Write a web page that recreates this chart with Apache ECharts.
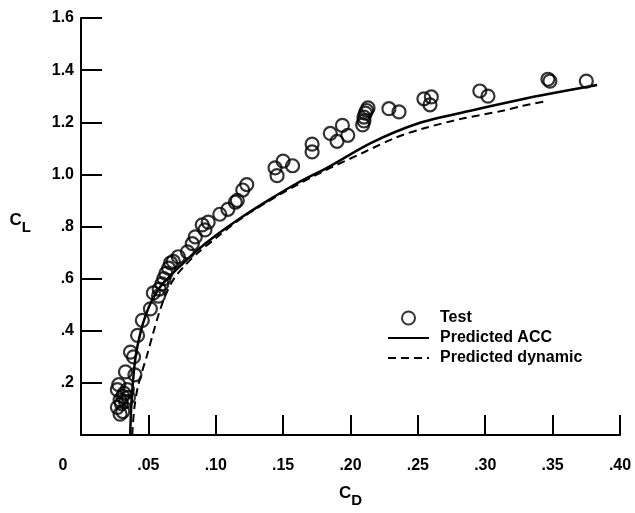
<!DOCTYPE html>
<html>
<head>
<meta charset="utf-8">
<script src="https://cdn.jsdelivr.net/npm/echarts@6/dist/echarts.min.js"></script>
<style>
html,body{margin:0;padding:0;background:#fff;}
#chart{width:635px;height:513px;}
</style>
</head>
<body>
<div id="chart"></div>
<script>
// Test data (CD, CL)
var testCD = [0.027,0.029,0.031,0.030,0.029,0.033,0.0352,0.031,0.032,0.027,0.0344,0.028,0.033,0.040,0.0367,0.039,0.042,0.0455,0.0515,0.0575,0.0537,0.058,0.060,0.0615,0.063,0.065,0.0665,0.0685,0.0722,0.079,0.0826,0.0848,0.092,0.090,0.0944,0.103,0.109,0.116,0.1145,0.120,0.123,0.1455,0.144,0.150,0.157,0.1715,0.1715,0.185,0.190,0.194,0.198,0.209,0.210,0.210,0.211,0.212,0.213,0.2285,0.236,0.2545,0.260,0.259,0.296,0.302,0.3465,0.348,0.375];
var testCL = [0.106,0.080,0.090,0.120,0.135,0.129,0.144,0.148,0.160,0.174,0.174,0.193,0.242,0.231,0.318,0.300,0.382,0.440,0.484,0.533,0.545,0.560,0.580,0.600,0.620,0.640,0.660,0.666,0.684,0.703,0.734,0.760,0.787,0.806,0.817,0.847,0.866,0.900,0.893,0.940,0.961,0.995,1.025,1.051,1.033,1.086,1.116,1.157,1.127,1.188,1.150,1.190,1.205,1.220,1.235,1.245,1.255,1.252,1.240,1.290,1.297,1.267,1.320,1.300,1.365,1.358,1.358];
// Predicted ACC (solid)
var accCD = [0.0365,0.0372,0.0385,0.0405,0.044,0.048,0.053,0.059,0.066,0.075,0.0836,0.100,0.1206,0.1404,0.160,0.185,0.215,0.250,0.289,0.318,0.340,0.383];
var accCL = [0.00,0.10,0.20,0.30,0.39,0.46,0.52,0.57,0.61,0.655,0.697,0.765,0.840,0.905,0.965,1.032,1.120,1.195,1.244,1.278,1.302,1.343];
// Predicted dynamic (dashed)
var dynCD = [0.038,0.0395,0.042,0.0453,0.049,0.0535,0.058,0.063,0.069,0.077,0.087,0.100,0.120,0.150,0.180,0.210,0.234,0.254,0.283,0.313,0.328,0.346];
var dynCL = [0.00,0.10,0.18,0.243,0.306,0.39,0.469,0.54,0.60,0.65,0.70,0.755,0.835,0.930,1.012,1.085,1.142,1.176,1.214,1.244,1.263,1.282];
var xTicks = {min:0, max:0.40, interval:0.05};
var yTicks = {min:0, max:1.6, interval:0.2};

function zip(a,b){return a.map(function(v,i){return [v,b[i]];});}
var FONT = '"Liberation Sans", Arial, sans-serif';
var chart = echarts.init(document.getElementById('chart'), null, {renderer:'canvas'});
chart.setOption({
  backgroundColor:'#fff',
  animation:false,
  grid:{left:81, right:15, top:18, bottom:72},
  legend:{
    orient:'vertical', left:382, top:305, itemWidth:41, itemHeight:13, itemGap:4,
    textStyle:{fontFamily:FONT, fontWeight:'bold', fontSize:16, color:'#000', padding:[0,0,0,6]},
    data:[
      {name:'Test'},
      {name:'Predicted ACC', itemStyle:{opacity:0}},
      {name:'Predicted dynamic', itemStyle:{opacity:0}}
    ]
  },
  xAxis:{
    type:'value', min:xTicks.min, max:xTicks.max, interval:xTicks.interval,
    name:'{c|C}{s|D}', nameLocation:'middle', nameGap:44,
    nameTextStyle:{rich:{
      c:{fontFamily:FONT, fontWeight:'bold', fontSize:17, color:'#000'},
      s:{fontFamily:FONT, fontWeight:'bold', fontSize:15, color:'#000', padding:[14,0,0,0]}
    }},
    axisLine:{lineStyle:{color:'#000', width:2}},
    axisTick:{inside:true, length:20, lineStyle:{color:'#000', width:2}},
    splitLine:{show:false},
    axisLabel:{margin:23, color:'#000', fontFamily:FONT, fontWeight:'bold', fontSize:16,
      formatter:function(v){
        if (Math.abs(v) < 1e-9) return '{z|0}';
        return '.' + String(Math.round(v*100)).padStart(2,'0');
      },
      rich:{z:{fontFamily:FONT, fontWeight:'bold', fontSize:16, color:'#000', padding:[0,36,0,0]}}
    }
  },
  yAxis:{
    type:'value', min:yTicks.min, max:yTicks.max, interval:yTicks.interval,
    name:'{c|C}{s|L}', nameLocation:'middle', nameRotate:0, nameGap:50,
    nameTextStyle:{padding:[0,0,12,0], rich:{
      c:{fontFamily:FONT, fontWeight:'bold', fontSize:17, color:'#000'},
      s:{fontFamily:FONT, fontWeight:'bold', fontSize:15, color:'#000', padding:[14,0,0,0]}
    }},
    axisLine:{lineStyle:{color:'#000', width:2}},
    axisTick:{inside:true, length:21, lineStyle:{color:'#000', width:2}},
    splitLine:{show:false},
    axisLabel:{margin:7, color:'#000', fontFamily:FONT, fontWeight:'bold', fontSize:16,
      formatter:function(v){
        if (Math.abs(v) < 1e-9) return '';
        if (v >= 1) return v.toFixed(1);
        return '.' + Math.round(v*10);
      }
    }
  },
  series:[
    {name:'Predicted ACC', type:'line', data:zip(accCD,accCL), smooth:0.3, symbol:'none',
     itemStyle:{color:'#000'}, lineStyle:{color:'#000', width:2.5}, z:2},
    {name:'Predicted dynamic', type:'line', data:zip(dynCD,dynCL), smooth:0.3, symbol:'none',
     itemStyle:{color:'#000'}, lineStyle:{color:'#000', width:2, type:[8,5]}, z:2},
    {name:'Test', type:'scatter', data:zip(testCD,testCL), symbol:'circle', symbolSize:13,
     itemStyle:{color:'rgba(255,255,255,0)', borderColor:'#000', borderWidth:2.2}, z:3}
  ]
});
</script>
</body>
</html>
